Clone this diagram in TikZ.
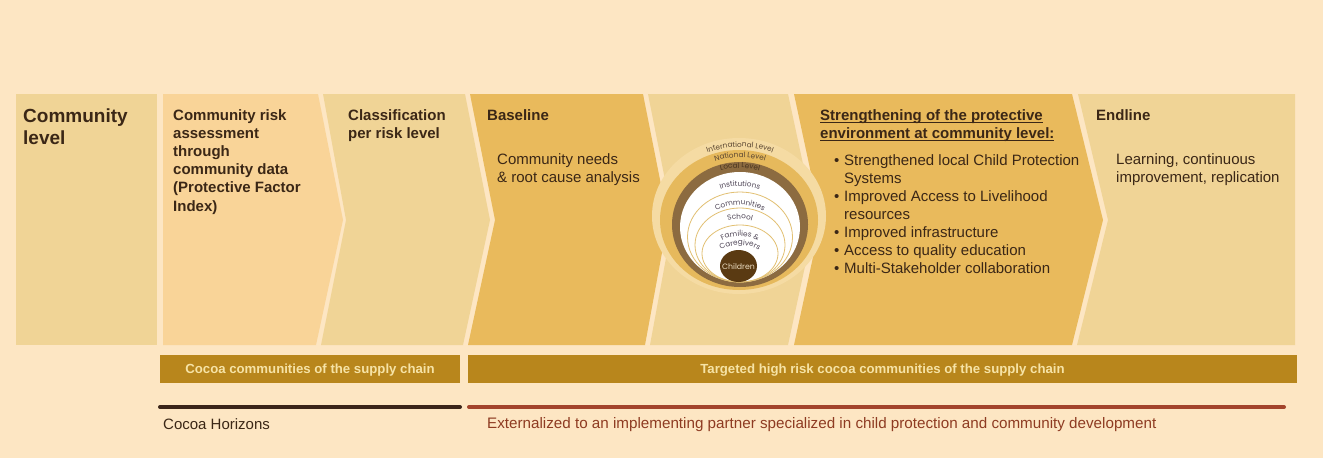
\documentclass[tikz,border=0pt]{standalone}
\usepackage{fontspec}
\setmainfont{Liberation Sans}
\newfontfamily\ringfont{Poppins}
\usetikzlibrary{decorations.text,calc}
\definecolor{bg}{HTML}{FDE6C3}
\definecolor{pale}{HTML}{F0D496}
\definecolor{peach}{HTML}{F9D498}
\definecolor{gold}{HTML}{E9BA5C}
\definecolor{barfill}{HTML}{B8861C}
\definecolor{bartext}{HTML}{F6E3A6}
\definecolor{ink}{HTML}{3B2716}
\definecolor{darkline}{HTML}{3B2519}
\definecolor{redline}{HTML}{A3442B}
\definecolor{redtext}{HTML}{8E3B22}
\definecolor{halo}{HTML}{F5DBA3}
\definecolor{ringgold}{HTML}{E6B95C}
\definecolor{ringbrown}{HTML}{8C6B40}
\definecolor{thinring}{HTML}{E2C072}
\definecolor{childbrown}{HTML}{5A3A12}
\definecolor{ringtext}{HTML}{4F4657}
\definecolor{outertext}{HTML}{5A4632}
\definecolor{localtext}{HTML}{4A3520}
\definecolor{childtext}{HTML}{EADBC0}
\newcommand\myul[1]{\setbox0\hbox{#1}\rlap{\rule[-2.4pt]{\wd0}{1.2pt}}\box0}
\newcommand\ringlabel[6]{% cx, baseline y, radius, size, colour, text
  \path[decorate,decoration={text along path,text align=center,
    text={|\ringfont\fontsize{#4}{#4}\selectfont\color{#5}|#6}}]
    ($(#1,#2+#3)+(-150:#3)$) arc[start angle=-150,end angle=-30,radius=#3];}
\begin{document}
\begin{tikzpicture}[x=1pt,y=-1pt,
  head/.style={anchor=north west,inner sep=0pt,align=left,text=ink,
    font=\bfseries\fontsize{15}{18.2}\selectfont},
  body/.style={anchor=north west,inner sep=0pt,align=left,text=ink,
    font=\fontsize{15}{18.1}\selectfont},
  barbox/.style={fill=barfill,text=bartext,inner sep=0pt,minimum height=28pt,
    text height=8pt,text depth=0pt,
    font=\bfseries\fontsize{13.2}{15}\selectfont},
  foot/.style={anchor=north west,inner sep=0pt,font=\fontsize{15}{18}\selectfont}]
\useasboundingbox (0,0) rectangle (1323,458);
\fill[bg] (0,0) rectangle (1323,458);
% panels
\fill[pale] (16,94) -- (157,94) -- (157,345) -- (16,345) -- cycle;
\fill[peach] (163,94) -- (318,94) -- (343,220) -- (316,345) -- (163,345) -- cycle;
\fill[pale] (323,94) -- (465,94) -- (490,220) -- (463,345) -- (321,345) -- (346,220) -- cycle;
\fill[gold] (470,94) -- (643,94) -- (668,220) -- (645,345) -- (468,345) -- (495,220) -- cycle;
\fill[pale] (648,94) -- (788,94) -- (815,220) -- (788,345) -- (650,345) -- (673,220) -- cycle;
\fill[gold] (794,94) -- (1072,94) -- (1103,220) -- (1072,345) -- (794,345) -- (821,220) -- cycle;
\fill[pale] (1078,94) -- (1295,94) -- (1295,345) -- (1077,345) -- (1108,220) -- cycle;
% rings
\fill[halo] (739,216) ellipse [x radius=87, y radius=78];
\fill[ringgold] (739,220) ellipse [x radius=79, y radius=70];
\fill[ringbrown] (740,224.5) ellipse [x radius=68, y radius=62.5];
\fill[white] (740,227) ellipse [x radius=60, y radius=55];
\draw[thinring,line width=0.8pt] (740,237) ellipse [x radius=52.5, y radius=45];
\draw[thinring,line width=0.8pt] (740,245) ellipse [x radius=45, y radius=37];
\draw[thinring,line width=0.8pt] (740,253.5) ellipse [x radius=38, y radius=28.5];
\fill[childbrown] (738.5,266) ellipse [x radius=18.5, y radius=16];
\ringlabel{740}{147}{95}{7.3}{outertext}{International Level}
\ringlabel{740}{157.5}{85}{7.3}{outertext}{National Level}
\ringlabel{740}{168}{75}{7.3}{localtext}{Local Level}
\ringlabel{740}{186}{60}{7.3}{ringtext}{Institutions}
\ringlabel{740}{205}{50}{7.3}{ringtext}{Communities}
\ringlabel{740}{219}{45}{7.3}{ringtext}{School}
\ringlabel{740}{236}{38}{7.3}{ringtext}{Families {\&}}
\ringlabel{740}{245}{38}{7.3}{ringtext}{Caregivers}
\node[inner sep=0pt,text=childtext,font=\ringfont\fontsize{7.8}{8}\selectfont] (children) at (738.5,267) {Children};
% texts
\node[head,font=\bfseries\fontsize{19}{22}\selectfont] (cl) at (23,108.5) {Community\\level};
\node[head] (cra) at (173,109) {Community risk\\assessment\\through\\community data\\(Protective Factor\\Index)};
\node[head] (cls) at (348,109.5) {Classification\\per risk level};
\node[head] (bas) at (487,109.5) {Baseline};
\node[body] (cna) at (497,153.5) {Community needs\\\& root cause analysis};
\node[head] (str) at (820,109.5) {\myul{Strengthening of the protective}\\\myul{environment at community level:}};
\node[body] (bul) at (834,154) {\makebox[10pt][l]{•}Strengthened local Child Protection\\\hspace*{10pt}Systems\\\makebox[10pt][l]{•}Improved Access to Livelihood\\\hspace*{10pt}resources\\\makebox[10pt][l]{•}Improved infrastructure\\\makebox[10pt][l]{•}Access to quality education\\\makebox[10pt][l]{•}Multi-Stakeholder collaboration};
\node[head] (end) at (1096,109.5) {Endline};
\node[body] (lrn) at (1116,153.5) {Learning, continuous\\improvement, replication};
% bars
\node[barbox,minimum width=300pt] (bar1) at (310,369) {Cocoa communities of the supply chain};
\node[barbox,minimum width=829pt] (bar2) at (882.5,369) {Targeted high risk cocoa communities of the supply chain};
% lines
\coordinate (d1) at (160,407);
\coordinate (d2) at (460,407);
\coordinate (r1) at (469,407);
\coordinate (r2) at (1284,407);
\draw[darkline,line width=4pt,line cap=round] (d1) -- (d2);
\draw[redline,line width=4pt,line cap=round] (r1) -- (r2);
\node[foot,text=ink] (ch) at (163,418) {Cocoa Horizons};
\node[foot,text=redtext,font=\fontsize{15.2}{18}\selectfont] (ext) at (487,417) {Externalized to an implementing partner specialized in child protection and community development};
\end{tikzpicture}
\end{document}
